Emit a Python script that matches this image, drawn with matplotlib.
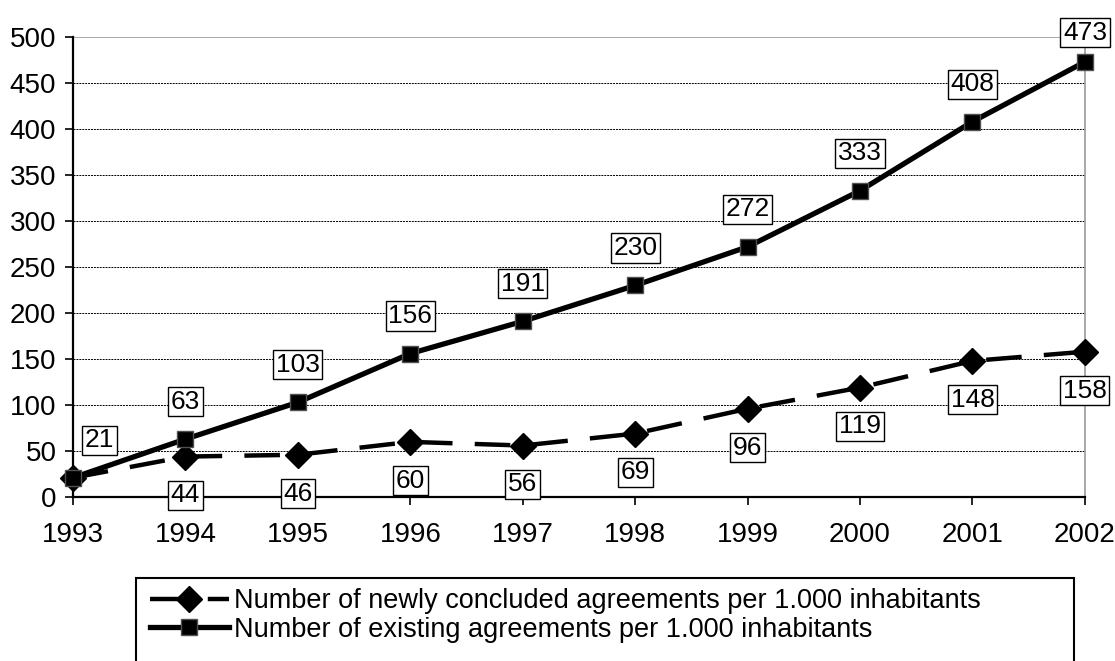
import matplotlib.pyplot as plt
from matplotlib.patches import Rectangle

plt.rcParams['font.family'] = ['Liberation Sans', 'DejaVu Sans']

years = [1993, 1994, 1995, 1996, 1997, 1998, 1999, 2000, 2001, 2002]
newly = [21, 44, 46, 60, 56, 69, 96, 119, 148, 158]
existing = [21, 63, 103, 156, 191, 230, 272, 333, 408, 473]
label_new = "Number of newly concluded agreements per 1.000 inhabitants"
label_existing = "Number of existing agreements per 1.000 inhabitants"

fig = plt.figure(figsize=(11.15, 6.61), dpi=100)
ax = fig.add_axes([0.0655, 0.248, 0.9075, 0.696])

# gridlines
for v in range(50, 500, 50):
    ax.axhline(v, color='black', lw=0.7, ls=(0, (2, 1)), zorder=1)
ax.axhline(500, color='#999999', lw=1.2, zorder=1)

l1, = ax.plot(years, newly, color='black', lw=3.2, dashes=(8, 5),
              marker='D', markersize=13, markerfacecolor='black',
              markeredgecolor='black', clip_on=False, zorder=3)
l2, = ax.plot(years, existing, color='black', lw=3.8,
              marker='s', markersize=11.5, markerfacecolor='black',
              markeredgecolor='#505050', clip_on=False, zorder=4)

box = dict(boxstyle='square,pad=0.1', facecolor='white', edgecolor='black', lw=1)

# labels for existing agreements (above the points)
for i, (x, y) in enumerate(zip(years, existing)):
    dx, dy = 0, 27
    if i == 0:
        dx = 19
    if i == len(years) - 1:
        dy = 21
    ax.annotate(str(y), (x, y), xytext=(dx, dy), textcoords='offset points',
                ha='center', va='center', fontsize=19, bbox=box, zorder=5,
                annotation_clip=False)

# labels for newly concluded agreements (below the points)
for i, (x, y) in enumerate(zip(years, newly)):
    if i == 0:
        continue
    ax.annotate(str(y), (x, y), xytext=(0, -28), textcoords='offset points',
                ha='center', va='center', fontsize=19, bbox=box, zorder=5,
                annotation_clip=False)

ax.set_xlim(1993, 2002)
ax.set_ylim(0, 500)
ax.set_xticks(years)
ax.set_yticks(range(0, 501, 50))
ax.tick_params(direction='out', length=6, width=1.2, labelsize=20, colors='black')
ax.tick_params(axis='x', pad=12)
ax.tick_params(axis='y', pad=6)

ax.spines['top'].set_visible(False)
ax.spines['right'].set_color('#999999')
ax.spines['right'].set_linewidth(1.2)
ax.spines['left'].set_linewidth(1.6)
ax.spines['bottom'].set_linewidth(1.6)

# legend box runs off the bottom edge of the picture
fig.patches.append(Rectangle((136 / 1115, -0.05), (1074 - 136) / 1115, 0.05 + (661 - 578) / 661,
                             transform=fig.transFigure, fill=False,
                             edgecolor='black', lw=1.5))
fig.legend([l1, l2], [label_new, label_existing],
           loc='upper left', bbox_to_anchor=(150 / 1115, 1 - 588 / 661),
           frameon=False, fontsize=19.5, handlelength=2.9, handletextpad=0.2,
           labelspacing=0.1, borderpad=0, borderaxespad=0)

fig.savefig('out.png', dpi=100)
